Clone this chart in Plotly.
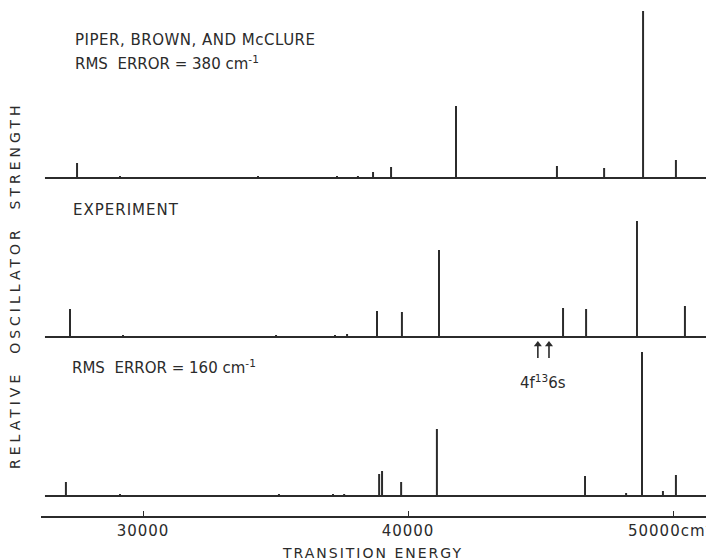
import plotly.graph_objects as go

# Transition energies (cm^-1) and relative oscillator strengths (arbitrary units)
pbm_energy = [27510, 29130, 34340, 37320, 38110, 38680, 39360, 41810, 45620, 47400, 48870, 50110]
pbm_strength = [15, 2, 2, 2, 2, 6, 11, 72, 12, 10, 167, 18]

exp_energy = [27245, 29245, 35020, 37245, 37700, 38830, 39770, 41170, 45850, 46720, 48640, 50450]
exp_strength = [28, 2, 2, 2, 3, 26, 25, 87, 29, 28, 116, 31]

fit_energy = [27090, 29130, 35130, 37170, 37590, 38910, 39020, 39740, 41090, 46680, 48230, 48830, 49620, 50110]
fit_strength = [14, 2, 2, 2, 2, 22, 25, 14, 67, 20, 3, 144, 5, 21]

# 4f13 6s levels marked under the experimental spectrum
arrow_energy = [44900, 45320]

tick_values = [30000, 40000, 50000]
tick_labels = ["30000", "40000", "50000cm<sup>-1</sup>"]

W, H = 706, 560
INK = "#2b2b2b"
FONT = "DejaVu Sans"
X_RANGE = [26150, 51245]
BASE_START = 26300


def px(x):
    return x / W


def py(y):
    return 1 - y / H


def sticks(energy, strength):
    xs, ys = [], []
    for e, s in zip(energy, strength):
        xs += [e, e, None]
        ys += [0, s, None]
    return xs, ys


fig = go.Figure()

panels = [
    (pbm_energy, pbm_strength, "y", 178),
    (exp_energy, exp_strength, "y2", 337),
    (fit_energy, fit_strength, "y3", 496),
]

for energy, strength, yref, _ in panels:
    # baseline
    fig.add_trace(go.Scatter(x=[BASE_START, X_RANGE[1]], y=[0, 0], mode="lines",
                             line=dict(color=INK, width=1.8), yaxis=yref,
                             hoverinfo="skip", showlegend=False))
    xs, ys = sticks(energy, strength)
    fig.add_trace(go.Scatter(x=xs, y=ys, mode="lines",
                             line=dict(color=INK, width=2), yaxis=yref,
                             showlegend=False))

# arrows pointing up at the 4f13 6s positions
ax_x, ax_y = [], []
for e in arrow_energy:
    ax_x += [e, e, None]
    ax_y += [-21, -8, None]
fig.add_trace(go.Scatter(x=ax_x, y=ax_y, mode="lines", yaxis="y2",
                         line=dict(color=INK, width=1.6), showlegend=False))
fig.add_trace(go.Scatter(x=arrow_energy, y=[-7.5] * len(arrow_energy), mode="markers",
                         yaxis="y2", showlegend=False,
                         marker=dict(symbol="triangle-up", size=7, color=INK,
                                     line=dict(width=0))))

span = 175
below = 30
yaxes = {}
for i, (_, _, yref, base) in enumerate(panels):
    name = "yaxis" if i == 0 else f"yaxis{i + 1}"
    bottom = (H - base - below) / H
    top = min(1.0, (H - base + span) / H)
    yaxes[name] = dict(domain=[bottom, top], range=[-below, (top - bottom) * H - below],
                       visible=False, anchor="x", fixedrange=True)

fig.update_layout(
    width=W, height=H,
    margin=dict(l=0, r=0, t=0, b=0, autoexpand=False),
    paper_bgcolor="white", plot_bgcolor="rgba(0,0,0,0)",
    showlegend=False,
    xaxis=dict(
        domain=[41 / W, 1], range=X_RANGE, anchor="free", position=py(517),
        automargin=False,
        showline=True, linecolor=INK, linewidth=1.5,
        showgrid=False, zeroline=False,
        ticks="inside", ticklen=5, tickwidth=1.2, tickcolor=INK,
        tickvals=tick_values, ticktext=tick_labels, ticklabeloverflow="allow",
        tickfont=dict(family=FONT, size=15, color=INK),
    ),
    **yaxes,
)

text_font = dict(family=FONT, size=15, color=INK)
labels = [
    ("PIPER, BROWN, AND McCLURE", 73, 40),
    ("RMS  ERROR = 380 cm<sup>-1</sup>", 73, 63),
    ("EXPERIMENT", 71, 210),
    ("RMS  ERROR = 160 cm<sup>-1</sup>", 70, 367),
]
for text, x, y in labels:
    fig.add_annotation(text=text, x=px(x), y=py(y), xref="paper", yref="paper",
                       xanchor="left", yanchor="middle", align="left",
                       showarrow=False, font=text_font)

fig.add_annotation(text="RELATIVE  OSCILLATOR  STRENGTH", textangle=-90,
                   x=px(15), y=py(285), xref="paper", yref="paper",
                   xanchor="center", yanchor="middle", showarrow=False,
                   font=dict(family=FONT, size=14, color=INK))
fig.add_annotation(text="TRANSITION ENERGY", x=px(372), y=py(553),
                   xref="paper", yref="paper", xanchor="center", yanchor="middle",
                   showarrow=False, font=dict(family=FONT, size=14, color=INK))

fig.add_annotation(text="4f<sup>13</sup>6s", x=sum(arrow_energy) / 2, y=py(382),
                   xref="x", yref="paper", xanchor="center", yanchor="middle",
                   showarrow=False, font=text_font)

post = """
var spacing = {'RELATIVE': '4px', 'TRANSITION': '2px', 'PIPER': '0.5px',
               'EXPERIMENT': '1px', '30000': '1px', '40000': '1px', '50000': '1px'};
document.querySelectorAll('text').forEach(function (t) {
  var s = t.textContent || '';
  for (var k in spacing) {
    if (s.indexOf(k) === 0) { t.style.letterSpacing = spacing[k]; }
  }
});
"""

fig.write_html("out.html", post_script=post)
